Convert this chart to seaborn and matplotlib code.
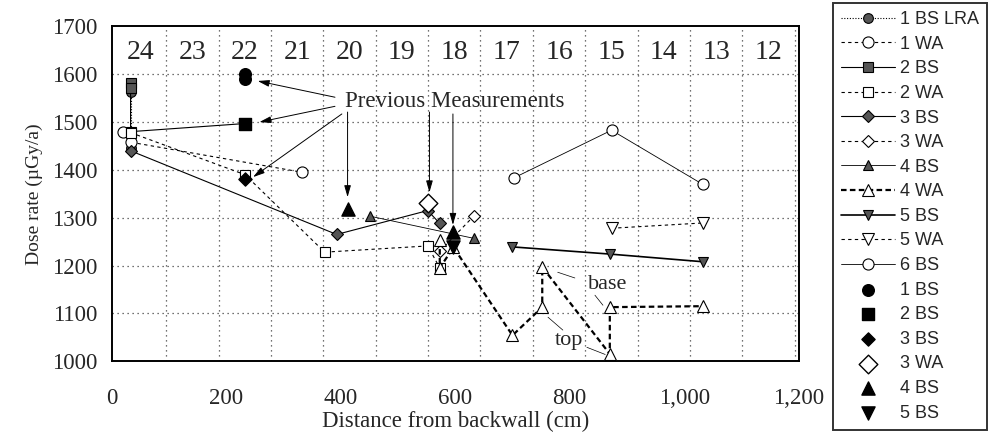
import numpy as np
import pandas as pd
import matplotlib
matplotlib.use("Agg")
import matplotlib.pyplot as plt
import seaborn as sns
from matplotlib.ticker import MultipleLocator, FuncFormatter

# Series data (distance cm, dose rate uGy/a)
bs1_lra_x = [33, 33]
bs1_lra_y = [1562, 1445]
wa1_x = [20, 33, 333]
wa1_y = [1480, 1458, 1395]
bs2_x = [33, 33, 33, 233]
bs2_y = [1582, 1572, 1480, 1497]
wa2_x = [33, 233, 372, 552, 573]
wa2_y = [1478, 1390, 1228, 1241, 1195]
bs3_x = [33, 393, 552, 573]
bs3_y = [1440, 1265, 1315, 1288]
wa3_x = [573, 632]
wa3_y = [1230, 1303]
bs4_x = [452, 632]
bs4_y = [1303, 1257]
wa4_x = [573, 573, 597, 700, 752, 752, 870, 870, 1032]
wa4_y = [1253, 1195, 1238, 1054, 1113, 1197, 1015, 1113, 1115]
bs5_x = [700, 870, 1032]
bs5_y = [1239, 1224, 1208]
wa5_x = [873, 1032]
wa5_y = [1278, 1289]
bs6_x = [702, 873, 1032]
bs6_y = [1383, 1483, 1370]

# previous measurements
prev1bs_x = [233, 233]
prev1bs_y = [1600, 1590]
prev2bs_x = [233]
prev2bs_y = [1497]
prev3bs_x = [233]
prev3bs_y = [1380]
prev3wa_x = [552]
prev3wa_y = [1330]
prev4bs_x = [412, 596]
prev4bs_y = [1318, 1270]
prev5bs_x = [596]
prev5bs_y = [1239]

# gallery sections
section_labels = ["24", "23", "22", "21", "20", "19", "18", "17", "16", "15", "14", "13", "12"]
section_width = 91.44
section_offset = 4

sns.set_style("white")
plt.rcParams["font.family"] = ["Liberation Serif", "DejaVu Serif"]

fig = plt.figure(figsize=(10.06, 4.41), dpi=100)
ax = fig.add_axes([0.111, 0.181, 0.683, 0.759])

grey = "#555555"
lines = [
    ("1 BS LRA", bs1_lra_x, bs1_lra_y, "o", grey, (0, (1, 1.5)), 0.8, 7),
    ("1 WA", wa1_x, wa1_y, "o", "white", (0, (3, 3)), 0.8, 8),
    ("2 BS", bs2_x, bs2_y, "s", grey, "-", 0.8, 7),
    ("2 WA", wa2_x, wa2_y, "s", "white", (0, (3, 3)), 0.8, 7),
    ("3 BS", bs3_x, bs3_y, "D", grey, "-", 0.8, 6),
    ("3 WA", wa3_x, wa3_y, "D", "white", (0, (3, 3)), 0.8, 6),
    ("4 BS", bs4_x, bs4_y, "^", grey, "-", 0.6, 7),
    ("4 WA", wa4_x, wa4_y, "^", "white", (0, (2.5, 1.5)), 1.6, 8),
    ("5 BS", bs5_x, bs5_y, "v", grey, "-", 1.2, 7),
    ("5 WA", wa5_x, wa5_y, "v", "white", (0, (3, 3)), 0.8, 8),
    ("6 BS", bs6_x, bs6_y, "o", "white", "-", 0.6, 8),
]
for name, xs, ys, mk, fc, ls, lw, ms in lines:
    sns.lineplot(x=xs, y=ys, ax=ax, sort=False, estimator=None, marker=mk,
                 markersize=ms, markerfacecolor=fc, markeredgecolor="black",
                 markeredgewidth=0.8, color="black", linestyle=ls, linewidth=lw,
                 label=name, zorder=3)

prev = [
    ("1 BS", prev1bs_x, prev1bs_y, "o", "black", 70),
    ("2 BS", prev2bs_x, prev2bs_y, "s", "black", 70),
    ("3 BS", prev3bs_x, prev3bs_y, "D", "black", 45),
    ("3 WA", prev3wa_x, prev3wa_y, "D", "white", 90),
    ("4 BS", prev4bs_x, prev4bs_y, "^", "black", 90),
    ("5 BS", prev5bs_x, prev5bs_y, "v", "black", 90),
]
for name, xs, ys, mk, fc, sz in prev:
    sns.scatterplot(x=xs, y=ys, ax=ax, marker=mk, s=sz, color=fc,
                    edgecolor="black", linewidth=1.0, label=name, zorder=4)

# grid
bounds = [section_offset + section_width * k for k in range(1, 14)]
ax.vlines(bounds, 1000, 1700, colors="#444444", linestyles=(0, (1, 3)), linewidth=0.9, zorder=1)
ax.hlines(np.arange(1100, 1700, 100), 0, 1200, colors="#444444", linestyles=(0, (1, 3)),
          linewidth=0.9, zorder=1)
for i, lab in enumerate(section_labels):
    ax.text(section_offset + section_width * (i + 0.5), 1645, lab, ha="center", va="center",
            fontsize=20)

# annotations
ax.text(407, 1544, "Previous Measurements", ha="left", va="center", fontsize=16.5)
arr = dict(arrowstyle="-|>,head_length=0.7,head_width=0.2", color="black", lw=0.7,
           shrinkA=0, shrinkB=0)
for tx, ty, hx, hy in [(390, 1552, 255, 1586), (390, 1533, 258, 1500), (402, 1517, 247, 1385),
                       (412, 1521, 412, 1343), (555, 1521, 555, 1353), (596, 1517, 596, 1285)]:
    ax.annotate("", xy=(hx, hy), xytext=(tx, ty), arrowprops=arr)

ax.text(866, 1160, "base", ha="center", va="center", fontsize=16)
ax.text(798, 1044, "top", ha="center", va="center", fontsize=16)
for x0, y0, x1, y1 in [(779, 1186, 809, 1174), (844, 1138, 858, 1117),
                       (762, 1092, 788, 1065), (830, 1029, 862, 1014)]:
    ax.plot([x0, x1], [y0, y1], color="black", lw=0.5)

ax.set_xlim(0, 1200)
ax.set_ylim(1000, 1700)
ax.xaxis.set_major_locator(MultipleLocator(100))
ax.xaxis.set_minor_locator(MultipleLocator(50))
ax.xaxis.set_major_formatter(FuncFormatter(lambda v, _: f"{int(v):,}" if int(v) % 200 == 0 else ""))
ax.yaxis.set_major_locator(MultipleLocator(100))
ax.yaxis.set_minor_locator(MultipleLocator(20))
ax.tick_params(which="major", direction="out", length=7, width=1.2, labelsize=16.5, color="black")
ax.tick_params(which="minor", direction="out", length=3.5, width=1.0, color="black")
ax.tick_params(axis="x", pad=12)
ax.tick_params(axis="y", pad=3)
for s in ax.spines.values():
    s.set_linewidth(1.4)
    s.set_color("black")
ax.set_xlabel("Distance from backwall (cm)", fontsize=16.5, labelpad=2)
ax.set_ylabel("Dose rate (µGy/a)", fontsize=14, labelpad=7)

handles, labels = ax.get_legend_handles_labels()
ax.get_legend().remove()
leg = fig.legend(handles, labels, loc="upper left", bbox_to_anchor=(0.828, 0.993),
                 prop={"family": "Liberation Sans", "size": 13}, frameon=True,
                 fancybox=False, edgecolor="black", handlelength=3.0, labelspacing=0.42,
                 borderpad=0.45, handletextpad=0.25, borderaxespad=0)
leg.get_frame().set_linewidth(1.4)

fig.savefig("out.png", dpi=100)
